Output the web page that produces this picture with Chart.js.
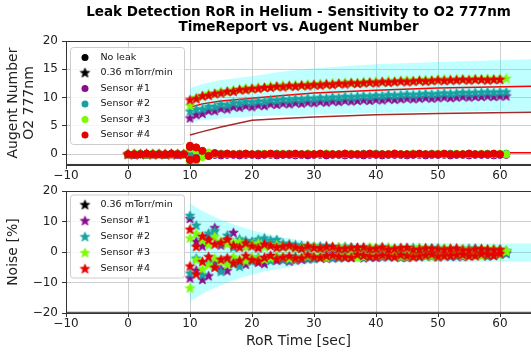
<!DOCTYPE html>
<html><head><meta charset="utf-8">
<script src="https://cdn.jsdelivr.net/npm/chart.js@4/dist/chart.umd.min.js"></script>
<style>
html,body{margin:0;padding:0;background:#fff;width:531px;height:353px;overflow:hidden}
canvas{position:absolute;left:0}
#c1{top:0}
#c2{top:180px}
</style></head><body>
<canvas id="c1" width="531" height="180"></canvas>
<canvas id="c2" width="531" height="173"></canvas>
<script>
// ---------- data ----------
const titleLines = ['Leak Detection RoR in Helium - Sensitivity to O2 777nm', 'TimeReport vs. Augent Number'];
const xTicks = [-10, 0, 10, 20, 30, 40, 50, 60];
const yTicksTop = [0, 5, 10, 15, 20];
const yTicksBottom = [-20, -10, 0, 10, 20];
const sensorNames = ['Sensor #1', 'Sensor #2', 'Sensor #3', 'Sensor #4'];
const sensorColors = ['#8a0c8f', '#17a2a2', '#7cfc00', '#e60000'];
const leakName = '0.36 mTorr/min';
const noLeakName = 'No leak';

const timeTop = [0,1,2,3,4,5,6,7,8,9,10,11,12,13,14,15,16,17,18,19,20,21,22,23,24,25,26,27,28,29,30,31,32,33,34,35,36,37,38,39,40,41,42,43,44,45,46,47,48,49,50,51,52,53,54,55,56,57,58,59,60,61];
const timeNoise = [10,11,12,13,14,15,16,17,18,19,20,21,22,23,24,25,26,27,28,29,30,31,32,33,34,35,36,37,38,39,40,41,42,43,44,45,46,47,48,49,50,51,52,53,54,55,56,57,58,59,60,61];

const noLeakS1 = [0.0,-0.1,0.0,-0.1,0.0,0.0,-0.1,0.0,-0.1,0.0,
 -0.8,-0.5,-0.3,-0.2,-0.1,-0.2,-0.1,-0.1,-0.2,-0.1,
 -0.1,-0.2,-0.1,-0.1,-0.2,-0.1,-0.1,-0.2,-0.1,-0.2,
 -0.1,-0.1,-0.2,-0.1,-0.1,-0.2,-0.1,-0.1,-0.2,-0.1,
 -0.1,-0.2,-0.1,-0.1,-0.1,-0.2,-0.1,-0.1,-0.2,-0.1,
 -0.1,-0.1,-0.2,-0.1,-0.1,-0.2,-0.1,-0.1,-0.1,-0.2,
 -0.1,-0.1];
const noLeakS2 = [0.0,0.0,0.1,0.0,0.0,0.1,0.0,0.0,0.1,0.0,
 0.6,0.4,0.2,0.1,0.0,0.1,0.0,0.0,0.1,0.0,
 0.0,0.1,0.0,0.0,0.1,0.0,0.1,0.0,0.0,0.1,
 0.0,0.0,0.1,0.0,0.0,0.1,0.0,0.0,0.1,0.0,
 0.1,0.0,0.0,0.1,0.0,0.0,0.1,0.0,0.0,0.1,
 0.0,0.0,0.1,0.0,0.0,0.1,0.0,0.0,0.1,0.0,
 0.0,0.1];
const noLeakS3 = [0.0,0.1,0.0,0.0,0.1,0.0,0.0,0.1,0.0,0.0,
 -1.2,0.9,-0.5,0.3,0.1,0.0,0.1,0.0,0.0,0.1,
 0.0,0.0,0.1,0.0,0.0,0.1,0.0,0.0,0.0,0.1,
 0.0,0.0,0.1,0.0,0.0,0.0,0.1,0.0,0.0,0.1,
 0.0,0.0,0.0,0.1,0.0,0.0,0.1,0.0,0.0,0.0,
 0.1,0.0,0.0,0.1,0.0,0.0,0.0,0.1,0.0,0.0,
 0.1,0.0];
const noLeakS4 = [0.0,0.0,0.0,0.1,0.0,0.0,0.0,0.1,0.0,0.0,
 1.3,-0.9,0.6,-0.3,0.2,0.0,0.1,0.0,0.0,0.1,
 0.0,0.0,0.0,0.1,0.0,0.0,0.0,0.1,0.0,0.0,
 0.0,0.1,0.0,0.0,0.0,0.1,0.0,0.0,0.0,0.1,
 0.0,0.0,0.0,0.1,0.0,0.0,0.0,0.1,0.0,0.0,
 0.0,0.1,0.0,0.0,0.0,0.1,0.0,0.0,0.0,0.1,
 0.0];
const burstTime = [10, 10, 11, 11];
const burstS1 = [-1.1, 0.5, -0.8, 0.4];
const burstS2 = [0.9, -0.6, 0.7, -0.4];
const burstS3 = [1.0, -1.5, -1.1, 0.6];
const burstS4 = [-1.0, 1.5, 1.2, -0.7];

const leakS1 = [0.0,-0.1,0.0,0.0,-0.1,0.0,0.0,-0.1,0.0,0.0,
 6.4,7.0,7.2,7.7,7.7,8.1,8.0,8.4,8.3,8.6,
 8.4,8.7,8.6,8.9,8.8,9.0,8.9,9.1,9.0,9.2,
 9.1,9.3,9.2,9.4,9.3,9.5,9.4,9.5,9.6,9.5,
 9.7,9.6,9.8,9.7,9.8,9.9,9.8,9.9,10.0,9.9,
 10.0,10.1,10.0,10.1,10.2,10.1,10.2,10.2,10.3,10.2,
 10.3,10.3];
const leakS2 = [0.0,0.1,0.0,0.0,0.1,0.0,0.0,0.1,0.0,0.0,
 7.6,7.9,8.0,8.4,8.4,8.8,8.7,9.1,9.0,9.3,
 9.2,9.4,9.3,9.6,9.5,9.7,9.6,9.8,9.7,9.9,
 9.8,10.0,9.9,10.1,10.0,10.2,10.1,10.2,10.3,10.2,
 10.4,10.3,10.5,10.4,10.5,10.6,10.5,10.6,10.7,10.6,
 10.7,10.8,10.7,10.8,10.9,10.8,10.9,10.9,11.0,10.9,
 11.0,11.0];
const leakS3 = [0.0,0.0,0.1,0.0,0.0,0.1,0.0,0.0,0.1,0.0,
 8.6,10.0,10.3,10.7,10.7,11.1,11.0,11.4,11.4,11.7,
 11.6,11.9,11.8,12.1,12.0,12.2,12.1,12.3,12.2,12.4,
 12.3,12.5,12.4,12.6,12.5,12.7,12.6,12.7,12.8,12.7,
 12.9,12.8,13.0,12.9,13.0,13.1,13.0,13.1,13.2,13.1,
 13.2,13.3,13.2,13.3,13.3,13.2,13.4,13.3,13.4,13.3,
 13.4,13.4];
const leakS4 = [0.0,0.0,0.0,0.1,0.0,0.0,0.0,0.1,0.0,0.0,
 9.6,9.8,10.3,10.4,10.7,10.8,11.1,11.1,11.4,11.4,
 11.6,11.6,11.8,11.8,12.0,11.9,12.1,12.0,12.2,12.1,
 12.3,12.2,12.4,12.3,12.5,12.4,12.6,12.5,12.6,12.7,
 12.6,12.8,12.7,12.8,12.9,12.8,12.9,13.0,12.9,13.0,
 13.1,13.0,13.1,13.1,13.2,13.1,13.2,13.2,13.1,13.2,
 13.2];

const curveTime = [10, 12, 15, 20, 25, 30, 40, 50, 65];
const redCurve = [8.3, 8.9, 9.4, 9.9, 10.4, 10.8, 11.3, 11.7, 12.0];
const brownCurve = [3.4, 4.0, 4.8, 6.0, 6.3, 6.6, 7.0, 7.2, 7.4];
const bandTopUpper = [11.7, 12.4, 13.1, 13.8, 14.6, 15.2, 15.9, 16.3, 16.8];
const bandTopLower = [5.8, 6.0, 6.3, 6.7, 6.9, 7.0, 7.3, 7.5, 7.7];
const zeroLineTime = [0, 65];
const zeroLine = [0.25, 0.25];

const noiseBandTime = [10, 12, 14, 16, 18, 20, 22, 24, 26, 28, 30, 32, 65];
const noiseBandUpper = [16.0, 13.5, 11.5, 9.8, 8.4, 7.2, 6.1, 5.2, 4.5, 3.8, 3.2, 2.9, 2.8];
const noiseBandLower = [-16.2, -13.7, -11.7, -10.0, -8.6, -7.4, -6.4, -5.6, -4.9, -4.2, -3.6, -3.3, -3.2];

const noiseS1 = [[11.0,-8.5],[-6.0,3.5],[2.0,-9.0],[-7.8,5.3],[8.0,-3.4],[-5.6,2.3],[3.9,-6.1],[-2.6,6.4],[2.9,-3.4],[-4.0,2.1],
 [3.1,-2.5],[-3.4,1.8],[2.3,-3.8],[-1.6,2.8],[2.9,-2.7],[-2.5,1.7],[1.9,-3.0],[-2.6,1.6],[1.4,-2.4],[-2.2,1.9],
 [1.6,-1.9],[-1.8,1.3],[1.2,-2.1],[-1.9,1.1],[1.5,-1.6],[-1.7,1.0],[1.3,-1.8],[-1.2,1.4],[1.0,-1.9],[-1.5,1.2],
 [1.2,-1.7],[-1.6,0.9],[0.8,-1.4],[-1.3,1.1],[1.1,-1.7],[-1.8,0.7],[0.9,-1.2],[-1.5,1.3],[1.2,-1.1],[-1.4,0.9],
 [0.7,-1.6],[-1.2,1.0],[1.0,-1.4],[-1.3,0.8],[0.8,-1.5],[-1.1,0.9],[1.0,-1.0],[-0.9,0.7],[0.6,-1.3],[-1.0,0.9],
 [0.8,-0.6],[-0.4,0.3]];
const noiseS2 = [[12.0,-6.9],[8.8,-2.0],[-7.5,4.1],[6.2,-3.3],[-4.8,7.0],[2.9,-6.4],[5.5,-2.7],[-3.9,1.5],[4.3,-4.7],[-2.4,3.8],
 [3.5,-3.0],[-1.7,4.2],[4.6,-2.2],[-2.8,3.9],[4.1,-1.4],[-2.3,2.9],[2.7,-2.6],[-1.4,2.4],[2.2,-2.0],[-1.9,1.6],
 [1.8,-2.2],[-1.5,2.0],[2.1,-1.1],[-1.7,1.5],[1.2,-1.9],[-1.0,1.8],[1.6,-1.4],[-1.3,1.1],[1.5,-1.7],[-1.6,1.0],
 [1.1,-1.3],[-0.9,1.6],[1.4,-1.5],[-1.2,0.8],[1.0,-1.6],[-1.3,1.2],[1.5,-0.9],[-1.4,1.0],[0.8,-1.4],[-1.0,1.3],
 [1.3,-1.0],[-0.8,0.9],[1.0,-1.3],[-1.2,0.7],[0.9,-1.0],[-0.7,1.2],[1.1,-0.8],[-1.0,0.6],[0.7,-1.1],[-0.9,0.8],
 [0.6,-0.8],[-0.3,0.4]];
const noiseS3 = [[4.6,-11.8],[-2.5,6.1],[3.8,-5.5],[-4.2,2.4],[5.1,-2.0],[-3.0,3.6],[2.7,-4.1],[-1.6,3.2],[3.4,-2.3],[-2.9,1.8],
 [2.5,-1.6],[-2.1,3.0],[1.7,-2.4],[-1.9,2.2],[2.4,-1.3],[-1.5,1.9],[1.8,-2.1],[-2.2,1.3],[1.5,-1.6],[-1.2,2.0],
 [1.9,-1.3],[-1.6,1.1],[1.4,-1.9],[-1.1,1.6],[1.7,-1.2],[-1.4,1.5],[1.2,-1.1],[-1.8,1.0],[1.3,-1.5],[-0.9,1.7],
 [1.5,-1.1],[-1.2,1.4],[1.6,-0.8],[-1.0,1.2],[1.3,-1.4],[-1.5,0.9],[1.1,-1.0],[-0.8,1.5],[1.4,-1.2],[-1.3,0.8],
 [0.9,-1.5],[-1.1,1.3],[1.2,-0.9],[-0.7,1.0],[1.1,-1.2],[-1.0,0.9],[0.8,-1.1],[-1.2,1.2],[1.0,-0.8],[-0.6,1.1],
 [0.9,-0.7],[0.5,0.2]];
const noiseS4 = [[7.5,-4.6],[1.8,-7.2],[-3.1,5.2],[4.0,-1.5],[-5.0,2.6],[3.1,-2.4],[-1.9,4.2],[2.2,-3.6],[-2.8,1.6],[3.0,-1.2],
 [-2.5,2.0],[1.4,-2.9],[-1.8,2.6],[2.1,-1.1],[-2.2,1.5],[1.9,-1.7],[-1.3,2.2],[1.6,-2.0],[-1.9,1.2],[2.0,-0.9],
 [-1.6,1.5],[1.3,-1.8],[-1.2,1.7],[1.8,-1.0],[-1.5,1.1],[1.2,-1.6],[-1.7,1.4],[1.5,-0.8],[-1.1,1.6],[1.0,-1.5],
 [-1.4,1.2],[1.6,-1.0],[-1.3,0.9],[1.1,-1.6],[-0.9,1.4],[1.5,-1.2],[-1.6,0.8],[0.9,-1.3],[-1.0,1.3],[1.2,-0.7],
 [-1.4,1.0],[0.8,-1.2],[-1.1,1.1],[1.3,-0.9],[-0.8,0.7],[0.6,-1.3],[-1.2,1.0],[1.1,-0.6],[-0.9,0.9],[0.7,-1.1],
 [-0.5,0.8]];

// ---------- helpers ----------
Chart.defaults.font.family = "'DejaVu Sans', sans-serif";
Chart.defaults.color = '#222';
Chart.defaults.animation = false;

const fmt = v => String(v).replace('-', '\u2212');
function starImg(color) {
  const c = document.createElement('canvas');
  c.width = 13; c.height = 13;
  const g = c.getContext('2d');
  g.translate(6.5, 6.8);
  g.beginPath();
  for (let i = 0; i < 10; i++) {
    const r = i % 2 ? 2.2 : 5.0;
    const a = -Math.PI / 2 + i * Math.PI / 5;
    g.lineTo(r * Math.cos(a), r * Math.sin(a));
  }
  g.closePath();
  g.fillStyle = color; g.fill();
  g.strokeStyle = color; g.lineWidth = 0.8; g.lineJoin = 'round'; g.stroke();
  return c;
}
const pts = (xs, ys) => ys.map((y, i) => ({x: xs[i], y}));
const pairPts = (xs, pairs) => pairs.flatMap((p, i) => p.map(y => ({x: xs[i], y})));

const stars = sensorColors.map(starImg);
const blackStar = starImg('#000');

const framePlugin = {
  id: 'frame',
  afterDatasetsDraw(chart) {
    const {ctx, chartArea: a} = chart;
    ctx.save();
    ctx.strokeStyle = '#333'; ctx.lineWidth = 1;
    ctx.strokeRect(Math.round(a.left) + 0.5, Math.round(a.top) + 0.5, a.right - a.left + 5, a.bottom - a.top - 1);
    ctx.restore();
  }
};
const boxLegend = {
  id: 'boxLegend',
  afterDraw(chart, args, o) {
    if (!o || !o.rows) return;
    const ctx = chart.ctx;
    ctx.save();
    const r = 3, {x, y, w, h} = o;
    ctx.beginPath();
    ctx.moveTo(x + r, y); ctx.lineTo(x + w - r, y); ctx.quadraticCurveTo(x + w, y, x + w, y + r);
    ctx.lineTo(x + w, y + h - r); ctx.quadraticCurveTo(x + w, y + h, x + w - r, y + h);
    ctx.lineTo(x + r, y + h); ctx.quadraticCurveTo(x, y + h, x, y + h - r);
    ctx.lineTo(x, y + r); ctx.quadraticCurveTo(x, y, x + r, y);
    ctx.closePath();
    ctx.fillStyle = 'rgba(255,255,255,0.8)'; ctx.fill();
    ctx.strokeStyle = '#cccccc'; ctx.lineWidth = 1; ctx.stroke();
    ctx.font = "9.5px 'DejaVu Sans'";
    ctx.textBaseline = 'middle'; ctx.textAlign = 'left';
    o.rows.forEach((row, i) => {
      const yy = o.y0 + i * o.step;
      if (row.marker === 'circle') {
        ctx.beginPath(); ctx.arc(o.mx, yy, 3.5, 0, Math.PI * 2);
        ctx.fillStyle = row.color; ctx.fill();
      } else {
        ctx.drawImage(row.img, o.mx - 6.5, yy - 6.8);
      }
      ctx.fillStyle = '#111';
      ctx.fillText(row.text, o.tx, yy);
    });
    ctx.restore();
  }
};

function xScale(height, withTitle) {
  return {
    type: 'linear', min: -10, max: 65,
    afterBuildTicks: s => { s.ticks = xTicks.map(v => ({value: v})); },
    afterFit: s => { s.height = height; },
    ticks: {font: {size: 12}, color: '#222', padding: 0, maxRotation: 0, autoSkip: false, callback: v => fmt(v)},
    grid: {color: '#cfcfcf', lineWidth: 1, tickColor: '#333', tickLength: 4},
    border: {color: '#333', width: 1},
    title: withTitle ? {display: true, text: 'RoR Time [sec]', font: {size: 14}, color: '#222', padding: {top: 0, bottom: 3.6}} : {display: false}
  };
}
function yScale(min, max, ticks, titleText) {
  return {
    type: 'linear', min, max,
    afterBuildTicks: s => { s.ticks = ticks.map(v => ({value: v})); },
    afterFit: s => { s.width = 66; },
    ticks: {font: {size: 12}, color: '#222', padding: 4, callback: v => fmt(v)},
    grid: {color: '#cfcfcf', lineWidth: 1, tickColor: '#333', tickLength: 4},
    border: {color: '#333', width: 1},
    title: {display: true, text: titleText, font: {size: 14}, color: '#222', padding: {top: 4.6, bottom: 0}}
  };
}
const lineDs = (data, color, order, extra) => Object.assign({type: 'line', data, borderColor: color, borderWidth: 1.5, pointRadius: 0, showLine: true, fill: false, order, tension: 0}, extra || {});

// ---------- top chart ----------
const topDatasets = [
  lineDs(pts(curveTime, bandTopUpper), 'rgba(0,0,0,0)', 100, {borderWidth: 0, fill: '+1', backgroundColor: 'rgba(0,255,255,0.25)'}),
  lineDs(pts(curveTime, bandTopLower), 'rgba(0,0,0,0)', 101, {borderWidth: 0}),
  lineDs(pts(curveTime, brownCurve), '#a52a2a', 90),
  lineDs(pts(curveTime, redCurve), '#ff0000', 89),
  lineDs(pts(zeroLineTime, zeroLine), '#ff0000', 88)
];
const noLeakAll = [noLeakS1, noLeakS2, noLeakS3, noLeakS4];
const burstAll = [burstS1, burstS2, burstS3, burstS4];
const leakAll = [leakS1, leakS2, leakS3, leakS4];
sensorColors.forEach((c, i) => {
  const circ = {type: 'scatter', pointStyle: 'circle', pointRadius: 3.6, backgroundColor: c, borderColor: c, borderWidth: 1, order: 60 - 3 * i};
  topDatasets.push(Object.assign({label: sensorNames[i] + ' ' + noLeakName, data: pts(timeTop, noLeakAll[i])}, circ));
  topDatasets.push(Object.assign({label: sensorNames[i] + ' burst', data: pts(burstTime, burstAll[i])}, circ));
  topDatasets.push({type: 'scatter', label: sensorNames[i] + ' ' + leakName, data: pts(timeTop, leakAll[i]), pointStyle: stars[i], pointRadius: 5, order: 59 - 3 * i});
});

new Chart(document.getElementById('c1'), {
  type: 'scatter',
  data: {datasets: topDatasets},
  options: {
    responsive: false, animation: false, events: [],
    layout: {autoPadding: false, padding: 0},
    scales: {x: xScale(15, false), y: yScale(-1.9, 20, yTicksTop, ['Augent Number', 'O2 777nm'])},
    plugins: {
      legend: {display: false}, tooltip: {enabled: false},
      title: {display: true, text: titleLines, fullSize: false, color: '#000',
        font: {size: 13.5, weight: 'bold', lineHeight: 1.15}, padding: {top: 4.5, bottom: 5.5}},
      boxLegend: {x: 70.5, y: 47.5, w: 114, h: 97, mx: 85, tx: 100.5, y0: 57.5, step: 15.5,
        rows: [{marker: 'circle', color: '#000', text: noLeakName}, {marker: 'star', img: blackStar, text: leakName}]
          .concat(sensorNames.map((n, i) => ({marker: 'circle', color: sensorColors[i], text: n})))}
    }
  },
  plugins: [framePlugin, boxLegend]
});

// ---------- bottom chart ----------
const noiseAll = [noiseS1, noiseS2, noiseS3, noiseS4];
const botDatasets = [
  lineDs(pts(noiseBandTime, noiseBandUpper), 'rgba(0,0,0,0)', 100, {borderWidth: 0, fill: '+1', backgroundColor: 'rgba(0,255,255,0.25)'}),
  lineDs(pts(noiseBandTime, noiseBandLower), 'rgba(0,0,0,0)', 101, {borderWidth: 0})
];
sensorColors.forEach((c, i) => {
  botDatasets.push({type: 'scatter', label: sensorNames[i], data: pairPts(timeNoise, noiseAll[i]), pointStyle: stars[i], pointRadius: 5, order: 60 - i});
});
new Chart(document.getElementById('c2'), {
  type: 'scatter',
  data: {datasets: botDatasets},
  options: {
    responsive: false, animation: false, events: [],
    layout: {autoPadding: false, padding: {top: 11, left: 0, right: 0, bottom: 0}},
    scales: {x: xScale(40, true), y: yScale(-20, 20, yTicksBottom, 'Noise [%]')},
    plugins: {
      legend: {display: false}, tooltip: {enabled: false},
      boxLegend: {x: 70.5, y: 15, w: 114, h: 83, mx: 85, tx: 100.5, y0: 25, step: 16,
        rows: [{marker: 'star', img: blackStar, text: leakName}]
          .concat(sensorNames.map((n, i) => ({marker: 'star', img: stars[i], text: n})))}
    }
  },
  plugins: [framePlugin, boxLegend]
});
</script>
</body></html>
